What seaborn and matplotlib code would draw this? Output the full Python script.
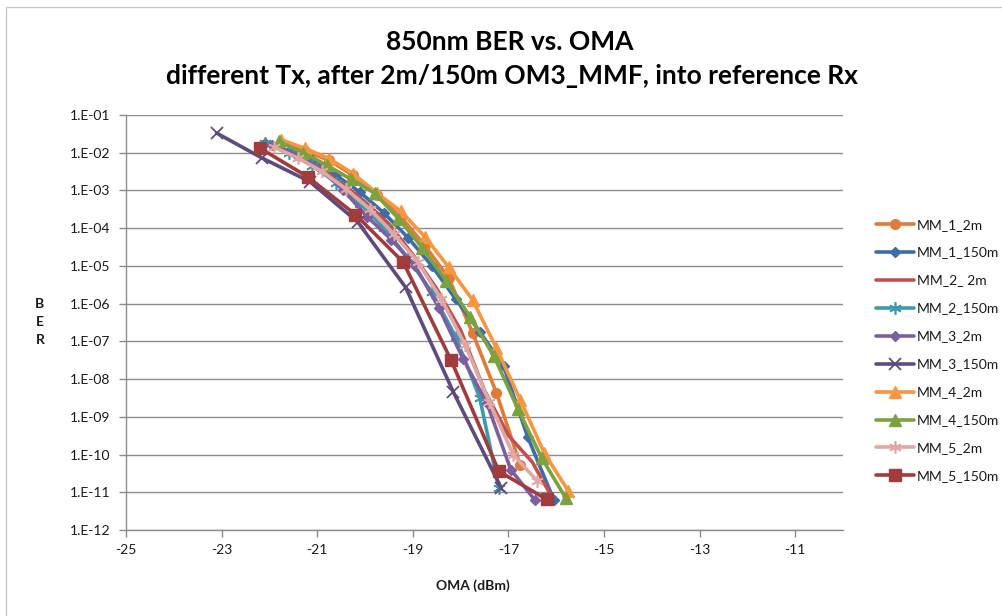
import numpy as np
import pandas as pd
import matplotlib
matplotlib.use("Agg")
import matplotlib.pyplot as plt
from matplotlib.ticker import FixedLocator, FuncFormatter
from matplotlib.lines import Line2D
import seaborn as sns

# ---- measured BER curves (OMA in dBm, BER) ----
mm1_2m_x = [-21.75, -21.25, -20.75, -20.25, -19.75, -19.25, -18.75, -18.25, -17.75, -17.25, -16.75]
mm1_2m_y = [1.8e-2, 1.1e-2, 6.3e-3, 2.5e-3, 7.6e-4, 2.0e-4, 3.5e-5, 4.8e-6, 1.7e-7, 4.3e-9, 5.2e-11]

mm1_150m_x = [-22.1, -21.6, -21.1, -20.6, -20.1, -19.6, -19.1, -18.6, -18.1, -17.6, -17.1, -16.6, -16.05]
mm1_150m_y = [1.8e-2, 1.1e-2, 6.3e-3, 2.5e-3, 8.9e-4, 2.5e-4, 5.6e-5, 1.0e-5, 1.3e-6, 1.8e-7, 2.2e-8, 3.0e-10, 6.3e-12]

mm2_2m_x = [-22.0, -21.5, -21.0, -20.5, -20.0, -19.5, -19.0, -18.5, -18.0, -17.5, -17.0, -16.5, -16.1]
mm2_2m_y = [1.6e-2, 8.9e-3, 4.5e-3, 1.6e-3, 5.0e-4, 1.3e-4, 2.0e-5, 2.5e-6, 2.0e-7, 5.0e-9, 3.2e-10, 6.3e-11, 7.9e-12]

mm2_150m_x = [-22.1, -21.6, -21.1, -20.6, -20.1, -19.6, -19.1, -18.6, -18.1, -17.6, -17.2]
mm2_150m_y = [1.8e-2, 1.0e-2, 4.5e-3, 1.6e-3, 4.5e-4, 1.0e-4, 1.6e-5, 2.0e-6, 1.3e-7, 3.2e-9, 1.3e-11]

mm3_2m_x = [-21.95, -21.45, -20.95, -20.45, -19.95, -19.45, -18.95, -18.45, -17.95, -17.45, -16.95, -16.45]
mm3_2m_y = [1.6e-2, 8.9e-3, 4.0e-3, 1.0e-3, 2.0e-4, 5.0e-5, 1.0e-5, 7.6e-7, 3.5e-8, 2.3e-9, 4.0e-11, 6.3e-12]

mm3_150m_x = [-23.1, -22.15, -21.15, -20.15, -19.15, -18.15, -17.15]
mm3_150m_y = [3.3e-2, 7.2e-3, 1.7e-3, 1.45e-4, 2.7e-6, 4.5e-9, 1.3e-11]

mm4_2m_x = [-21.75, -21.25, -20.75, -20.25, -19.75, -19.25, -18.75, -18.25, -17.75, -17.25, -16.75, -16.25, -15.75]
mm4_2m_y = [2.2e-2, 1.3e-2, 7.0e-3, 2.8e-3, 8.5e-4, 2.8e-4, 6.0e-5, 9.3e-6, 1.26e-6, 6.6e-8, 2.8e-9, 1.1e-10, 1.1e-11]

mm4_150m_x = [-21.8, -21.3, -20.8, -20.3, -19.8, -19.3, -18.8, -18.3, -17.8, -17.3, -16.8, -16.3, -15.8]
mm4_150m_y = [2.0e-2, 1.0e-2, 4.7e-3, 2.0e-3, 8.5e-4, 1.8e-4, 3.0e-5, 4.0e-6, 4.5e-7, 4.0e-8, 1.6e-9, 8.0e-11, 7.0e-12]

mm5_2m_x = [-21.9, -21.4, -20.9, -20.4, -19.9, -19.4, -18.9, -18.4, -17.9, -17.4, -16.9, -16.4]
mm5_2m_y = [1.4e-2, 7.2e-3, 3.2e-3, 1.1e-3, 3.2e-4, 7.1e-5, 1.3e-5, 1.3e-6, 7.9e-8, 2.5e-9, 1.0e-10, 2.0e-11]

mm5_150m_x = [-22.2, -21.2, -20.2, -19.2, -18.2, -17.2, -16.2]
mm5_150m_y = [1.33e-2, 2.3e-3, 2.3e-4, 1.26e-5, 3.2e-8, 3.6e-11, 6.5e-12]

series_names = ["MM_1_2m", "MM_1_150m", "MM_2_ 2m", "MM_2_150m", "MM_3_2m",
                "MM_3_150m", "MM_4_2m", "MM_4_150m", "MM_5_2m", "MM_5_150m"]
series_x = [mm1_2m_x, mm1_150m_x, mm2_2m_x, mm2_150m_x, mm3_2m_x,
            mm3_150m_x, mm4_2m_x, mm4_150m_x, mm5_2m_x, mm5_150m_x]
series_y = [mm1_2m_y, mm1_150m_y, mm2_2m_y, mm2_150m_y, mm3_2m_y,
            mm3_150m_y, mm4_2m_y, mm4_150m_y, mm5_2m_y, mm5_150m_y]

x_ticks = [-25, -23, -21, -19, -17, -15, -13, -11]
y_ticks = [1e-1, 1e-2, 1e-3, 1e-4, 1e-5, 1e-6, 1e-7, 1e-8, 1e-9, 1e-10, 1e-11, 1e-12]

# ---- styles ----
ASTER = (6, 2, 0)
styles = [
    dict(color="#E07B39", marker="o", markersize=7, mew=1),
    dict(color="#3D6DA8", marker="D", markersize=5.5, mew=1),
    dict(color="#C0504D", marker=None, markersize=0, mew=1),
    dict(color="#3B9AAF", marker=ASTER, markersize=9, mew=1.2),
    dict(color="#7D5FA0", marker="D", markersize=5.5, mew=1),
    dict(color="#5E4A7E", marker="x", markersize=9, mew=1.3),
    dict(color="#F7963F", marker="^", markersize=9, mew=1),
    dict(color="#7BA23E", marker="^", markersize=9, mew=1),
    dict(color="#E0A7A5", marker=ASTER, markersize=9, mew=1.2),
    dict(color="#A03C3C", marker="s", markersize=9, mew=1),
]

sns.set_theme(style="white")
plt.rcParams["font.family"] = ["Lato", "DejaVu Sans"]

W, H = 1003, 616
fig = plt.figure(figsize=(W / 100, H / 100), dpi=100)
fig.patch.set_facecolor("white")

L, R, T, B = 126, 843, 115, 530
ax = fig.add_axes([L / W, 1 - B / H, (R - L) / W, (B - T) / H])
ax.set_facecolor("white")

for name, xs, ys, st in zip(series_names, series_x, series_y, styles):
    df = pd.DataFrame({"OMA": xs, "BER": ys})
    kw = dict(color=st["color"], linewidth=2.6, label=name, sort=False,
              estimator=None, ax=ax, legend=False)
    if st["marker"] is not None:
        kw.update(marker=st["marker"], markersize=st["markersize"],
                  markeredgecolor=st["color"], markerfacecolor=st["color"],
                  markeredgewidth=st["mew"])
    sns.lineplot(data=df, x="OMA", y="BER", **kw)

if ax.get_legend() is not None:
    ax.get_legend().remove()

ax.set_yscale("log")
ax.set_xlim(-25, -10)
ax.set_ylim(1e-12, 1e-1)
ax.xaxis.set_major_locator(FixedLocator(x_ticks))
ax.yaxis.set_major_locator(FixedLocator(y_ticks))
ax.yaxis.set_minor_locator(FixedLocator([]))
ax.yaxis.set_major_formatter(FuncFormatter(lambda v, p: "1.E-%02d" % int(round(-np.log10(v)))))
ax.xaxis.set_major_formatter(FuncFormatter(lambda v, p: "%d" % v))

ax.grid(axis="y", color="#8C8C8C", linewidth=1.0)
ax.grid(axis="x", visible=False)
ax.set_axisbelow(True)
for s in ["top", "right"]:
    ax.spines[s].set_visible(False)
for s in ["left", "bottom"]:
    ax.spines[s].set_color("#8C8C8C")
    ax.spines[s].set_linewidth(1.0)
ax.tick_params(axis="both", which="major", direction="out", length=5,
               width=1, color="#8C8C8C", labelsize=10, labelcolor="#1a1a1a",
               left=True, bottom=True, pad=6)
ax.tick_params(axis="x", pad=5)

ax.set_xlabel("OMA (dBm)", fontsize=10, fontweight="bold", color="#1a1a1a")
ax.xaxis.set_label_coords((473 - L) / (R - L), -(586 - B) / (B - T))
ax.xaxis.label.set_va("center")
ax.set_ylabel("")
fig.text(40 / W, 1 - 322 / H, "B\nE\nR", ha="center", va="center",
         fontsize=10, fontweight="bold", linespacing=1.55, color="#1a1a1a")

fig.text(510 / W, 1 - 42 / H, "850nm BER vs. OMA", ha="center", va="center",
         fontsize=19, fontweight="bold", color="black")
fig.text(512 / W, 1 - 76 / H, "different Tx, after 2m/150m OM3_MMF, into reference Rx",
         ha="center", va="center", fontsize=19, fontweight="bold", color="black")

# legend on the right
handles = []
for name, st in zip(series_names, styles):
    handles.append(Line2D([], [], color=st["color"], linewidth=2.6,
                          marker=st["marker"] if st["marker"] is not None else "None",
                          markersize=st["markersize"], markeredgecolor=st["color"],
                          markerfacecolor=st["color"], markeredgewidth=st["mew"],
                          label=name))
leg = fig.legend(handles=handles, loc="upper left",
                 bbox_to_anchor=(870 / W, 1 - 213 / H), frameon=False,
                 fontsize=10, handlelength=2.8, handletextpad=0.15,
                 labelspacing=1.15, borderaxespad=0)
for t in leg.get_texts():
    t.set_color("#1a1a1a")

# sheet edge around the chart area
fig.add_artist(Line2D([6 / W, 6 / W], [0, 1 - 7 / H], transform=fig.transFigure,
                      color="#C8C8C8", linewidth=1))
fig.add_artist(Line2D([6 / W, 1], [1 - 7 / H, 1 - 7 / H], transform=fig.transFigure,
                      color="#C8C8C8", linewidth=1))

fig.savefig("out.png", dpi=100, facecolor="white")
